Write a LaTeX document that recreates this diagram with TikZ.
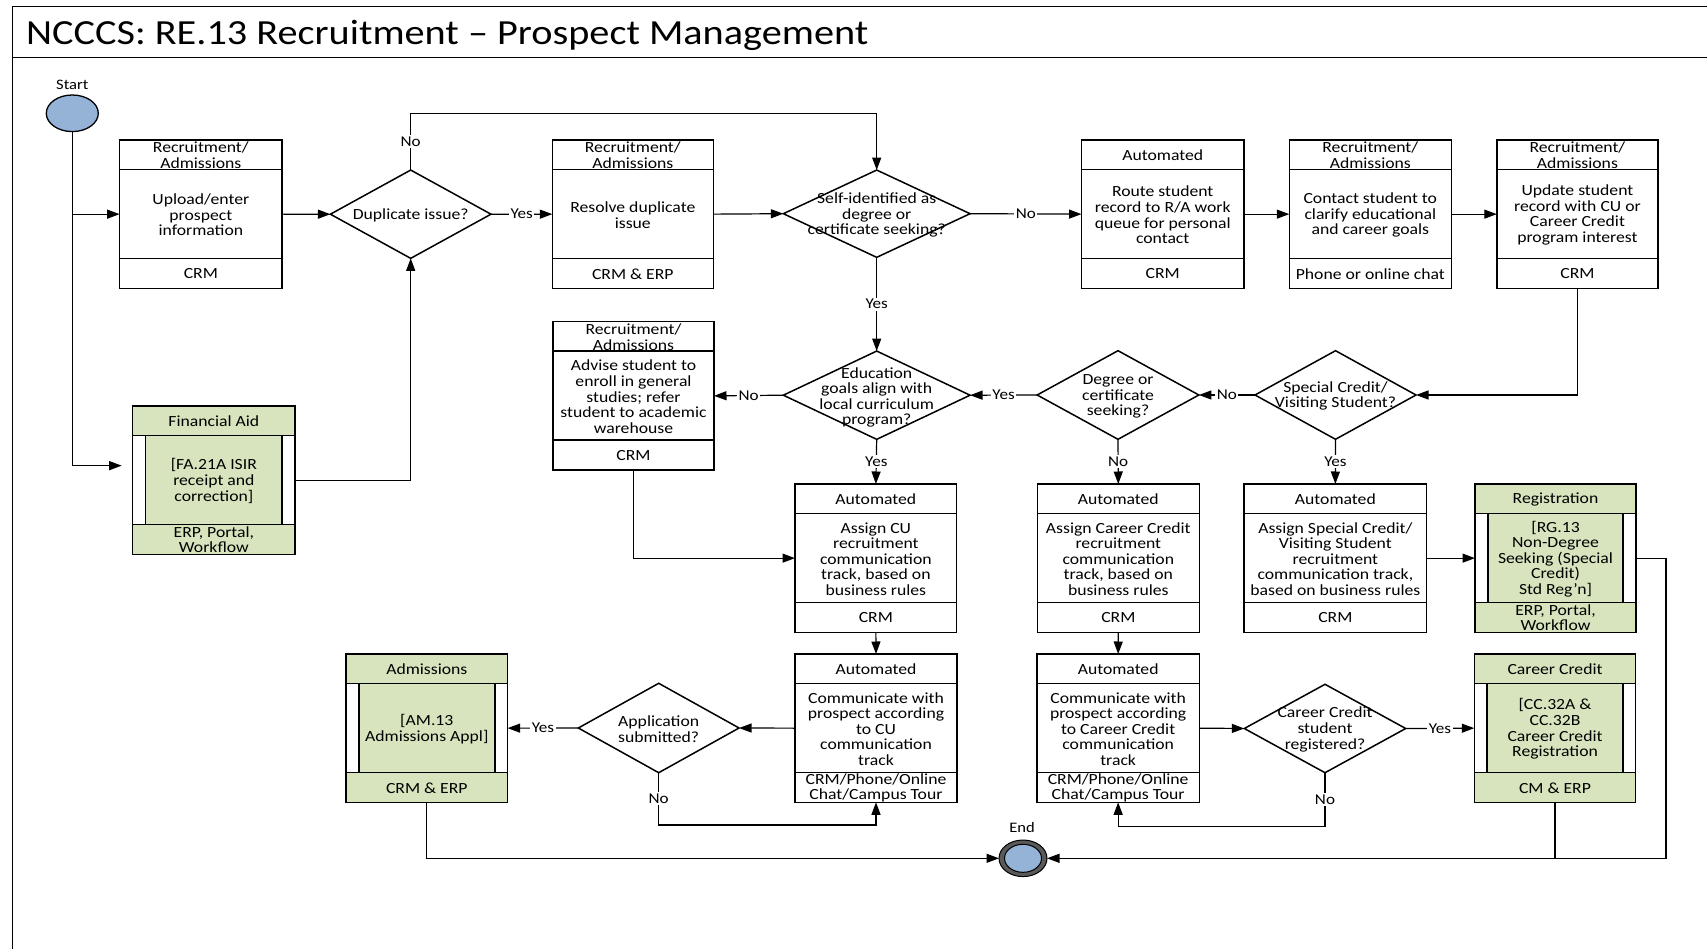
\documentclass[tikz,border=0pt]{standalone}
\usepackage{fontspec}
\setmainfont{Carlito}[FakeStretch=1.14]
\usetikzlibrary{arrows.meta,shapes.geometric}
\definecolor{subgreen}{RGB}{215,228,189}
\definecolor{termblue}{RGB}{149,179,215}
\definecolor{ringgray}{RGB}{89,89,89}

\tikzset{
  frameline/.style={line width=1.5pt},
  boxframe/.style={draw, line width=1.5pt, rectangle, inner sep=0pt, outer sep=0pt,
    anchor=north west, minimum height=148.3pt},
  lbl/.style={font=\fontsize{15.5}{15.6}\selectfont, align=center, inner sep=0pt},
  decision/.style={diamond, draw, line width=1.5pt, fill=white, inner sep=0pt, outer sep=0pt},
  flow/.style={line width=1.2pt, -{Triangle[length=12.5pt,width=9pt]}},
  plainflow/.style={line width=1.2pt},
  answer/.style={fill=white, inner sep=1.5pt, font=\fontsize{15}{15}\selectfont},
  termlabel/.style={font=\fontsize{14.5}{14.5}\selectfont, inner sep=0pt},
}

% process box: [fill] name, x-left, x-right, y-top, lane, task, system
\newcommand\procbox[8][white]{%
  \node[boxframe, fill=#1, minimum width={(#4-#3)*1pt}] (#2) at (#3,#5) {};
  \draw[line width=1.5pt] (#3,{#5+29.5}) -- (#4,{#5+29.5});
  \draw[line width=1.5pt] (#3,{#5+118.5}) -- (#4,{#5+118.5});
  \node[lbl] (#2-head) at ({(#3+#4)/2},{#5+15.2}) {#6};
  \node[lbl] (#2-body) at ({(#3+#4)/2},{#5+75}) {#7};
  \node[lbl] (#2-foot) at ({(#3+#4)/2},{#5+133.8}) {#8};
}
% side bars of a sub-process box: x-left, x-right, y-top
\newcommand\sidebars[3]{%
  \fill[white] ({#1+0.75},{#3+30.25}) rectangle ({#1+12.8},{#3+117.75});
  \fill[white] ({#2-12.8},{#3+30.25}) rectangle ({#2-0.75},{#3+117.75});
  \draw[line width=1.5pt] ({#1+12.8},{#3+29.5}) -- ({#1+12.8},{#3+118.5});
  \draw[line width=1.5pt] ({#2-12.8},{#3+29.5}) -- ({#2-12.8},{#3+118.5});
}

\begin{document}
\begin{tikzpicture}[x=1pt,y=-1pt]
\useasboundingbox (0,0) rectangle (1707,949);
\clip (0,0) rectangle (1707,949);
\fill[white] (0,0) rectangle (1707,949);

% page frame and title band
\draw[frameline] (12.5,960) -- (12.5,6.5) -- (1720,6.5);
\draw[frameline] (12.5,57.7) -- (1720,57.7);
\node[anchor=west, inner sep=0pt, font=\fontsize{35.3}{36}\selectfont] (title) at (26,35)
  {NCCCS: RE.13 Recruitment -- Prospect Management};

% start and end events
\node[termlabel] (startlbl) at (72.3,85) {Start};
\node[ellipse, draw, line width=1.3pt, fill=termblue, minimum width=52pt, minimum height=36.6pt,
  inner sep=0pt, outer sep=0pt] (start) at (72.3,113.3) {};
\node[termlabel] (endlbl) at (1022,827.7) {End};
\node[ellipse, draw, line width=1pt, fill=ringgray, minimum width=48pt, minimum height=36.6pt,
  inner sep=0pt, outer sep=0pt] (end) at (1023,858.3) {};
\node[ellipse, draw, line width=1pt, fill=termblue, minimum width=37pt, minimum height=28pt,
  inner sep=0pt] (endcore) at (end) {};

% first row
\procbox{b1}{119.6}{282.1}{140}{Recruitment/\\Admissions}{Upload/enter\\prospect\\information}{CRM}
\procbox{b2}{552.3}{713.3}{140}{Recruitment/\\Admissions}{Resolve duplicate\\issue}{CRM \& ERP}
\procbox{b4}{1081.5}{1243.9}{140}{Automated}{Route student\\record to R/A work\\queue for personal\\contact}{CRM}
\procbox{b5}{1289.3}{1451.3}{140}{Recruitment/\\Admissions}{Contact student to\\clarify educational\\and career goals}{Phone or online chat}
\procbox{b6}{1496.8}{1658}{140}{Recruitment/\\Admissions}{Update student\\record with CU or\\Career Credit\\program interest}{CRM}

% second row
\procbox{b3}{553}{714}{321.7}{Recruitment/\\Admissions}{Advise student to\\enroll in general\\studies; refer\\student to academic\\warehouse}{CRM}
\procbox[subgreen]{fa}{132.7}{295}{406}{Financial Aid}{[FA.21A ISIR\\receipt and\\correction]}{ERP, Portal,\\Workflow}
\sidebars{132.7}{295}{406}

% third row
\procbox{cuA}{795}{956.7}{484}{Automated}{Assign CU\\recruitment\\communication\\track, based on\\business rules}{CRM}
\procbox{ccA}{1037.3}{1199.3}{484}{Automated}{Assign Career Credit\\recruitment\\communication\\track, based on\\business rules}{CRM}
\procbox{scA}{1244}{1426.7}{484}{Automated}{Assign Special Credit/\\Visiting Student\\recruitment\\communication track,\\based on business rules}{CRM}
\procbox[subgreen]{reg}{1475}{1636}{484}{Registration}{[RG.13\\Non-Degree\\Seeking (Special\\Credit)\\Std Reg’n]}{ERP, Portal,\\[-1pt]Workflow}
\sidebars{1475}{1636}{484}

% fourth row
\procbox[subgreen]{adm}{346}{507.6}{654}{Admissions}{[AM.13\\Admissions Appl]}{CRM \& ERP}
\sidebars{346}{507.6}{654}
\procbox{cuC}{795}{957}{654}{Automated}{Communicate with\\prospect according\\to CU\\communication\\track}{CRM/Phone/Online\\Chat/Campus Tour}
\procbox{ccC}{1037}{1199.3}{654}{Automated}{Communicate with\\prospect according\\to Career Credit\\communication\\track}{CRM/Phone/Online\\Chat/Campus Tour}
\procbox[subgreen]{ccR}{1474.3}{1635.7}{654}{Career Credit}{[CC.32A \&\\CC.32B\\Career Credit\\Registration}{CM \& ERP}
\sidebars{1474.3}{1635.7}{654}

% decisions
\node[decision, minimum width=160.6pt, minimum height=88.3pt] (dup) at (410.7,214.2) {};
\node[lbl] (dup-q) at (410.7,215) {Duplicate issue?};
\node[decision, minimum width=186.7pt, minimum height=87.3pt] (self) at (876.7,213.7) {};
\node[lbl] (self-q) at (876.7,215) {Self-identified as\\degree or\\certificate seeking?};
\node[decision, minimum width=186.7pt, minimum height=88.3pt] (edu) at (876.7,395.2) {};
\node[lbl] (edu-q) at (876.7,397.5) {Education\\goals align with\\local curriculum\\program?};
\node[decision, minimum width=161.7pt, minimum height=88.6pt] (degree) at (1118,395) {};
\node[lbl] (degree-q) at (1118,396.5) {Degree or\\certificate\\seeking?};
\node[decision, minimum width=161pt, minimum height=88.6pt] (special) at (1335.5,395) {};
\node[lbl] (special-q) at (1335.5,396) {Special Credit/\\Visiting Student?};
\node[decision, minimum width=160.7pt, minimum height=89.4pt] (app) at (658.7,728) {};
\node[lbl] (app-q) at (658.7,729) {Application\\submitted?};
\node[decision, minimum width=161.4pt, minimum height=88.4pt] (career) at (1325,728.5) {};
\node[lbl] (career-q) at (1325,729.5) {Career Credit\\student\\registered?};

% turning points of routed connectors
\coordinate (topLoop) at (0,113.3);
\coordinate (appLoop) at (0,825);
\coordinate (ccLoop) at (0,826.7);
\coordinate (rightRail) at (1666,858.3);

% connectors
\draw[flow, shorten >=11pt] (start.south) |- ([yshift=14.5pt]fa.west);
\draw[flow] (start.south |- b1.west) -- (b1.west);
\draw[flow] (b1.east) -- (dup.west);
\draw[flow] (dup.east) -- node[answer]{Yes} (b2.west);
\draw[flow] (dup.north) -- node[answer]{No} (dup.north |- topLoop) -| (self.north);
\draw[flow] (fa.east) -| (dup.south);
\draw[flow] (b2.east) -- (self.west);
\draw[flow] (self.east) -- node[answer]{No} (b4.west);
\draw[flow] (b4.east) -- (b5.west);
\draw[flow] (b5.east) -- (b6.west);
\draw[flow] (b6.south) |- (special.east);
\draw[flow] (self.south) -- node[answer]{Yes} (edu.north);
\draw[flow] (special.west) -- node[answer]{No} (degree.east);
\draw[flow] (degree.west) -- node[answer]{Yes} (edu.east);
\draw[flow] (edu.west) -- node[answer]{No} (b3.east);
\draw[flow] (edu.south) -- node[answer]{Yes} (cuA.north);
\draw[flow] (degree.south) -- node[answer]{No} (ccA.north);
\draw[flow] (special.south) -- node[answer]{Yes} (scA.north);
\draw[flow] (b3.south) |- (cuA.west);
\draw[flow] (scA.east) -- (reg.west);
\draw[flow] (cuA.south) -- (cuC.north);
\draw[flow] (ccA.south) -- (ccC.north);
\draw[flow] (cuC.west) -- (app.east);
\draw[flow] (app.west) -- node[answer]{Yes} (adm.east);
\draw[flow] (app.south) -- node[answer]{No} (app.south |- appLoop) -| (cuC.south);
\draw[flow] (ccC.east) -- (career.west);
\draw[flow] (career.east) -- node[answer]{Yes} (ccR.west);
\draw[flow] (career.south) -- node[answer]{No} (career.south |- ccLoop) -| (ccC.south);
\draw[flow] (adm.south) |- (end.west);
\draw[flow] (reg.east) -| (rightRail) -- (end.east);
\draw[plainflow] (ccR.south) -- (ccR.south |- end.east);
\end{tikzpicture}
\end{document}
